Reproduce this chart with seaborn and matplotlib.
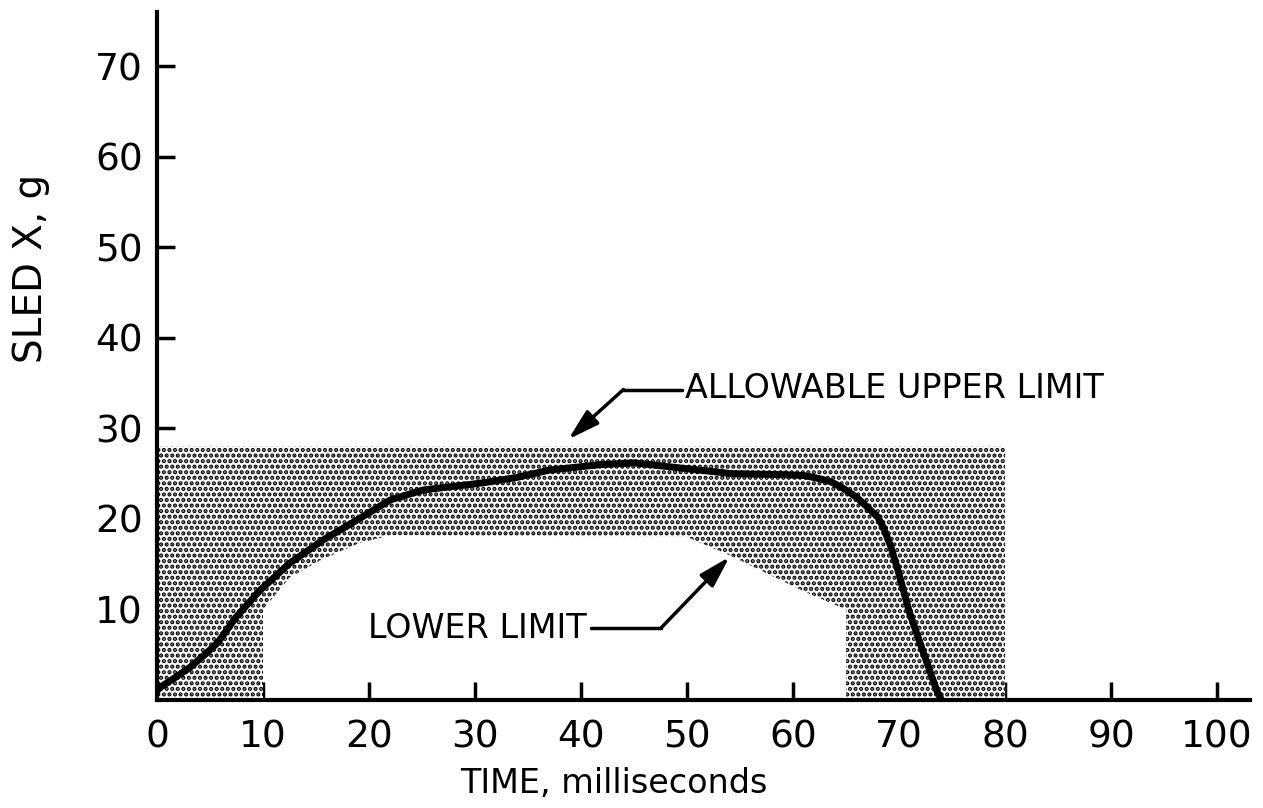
import matplotlib
matplotlib.use("Agg")
import matplotlib.pyplot as plt
import seaborn as sns
import numpy as np
import pandas as pd

# Sled acceleration curve (ms, g)
time_ms = [0, 0.3, 1.5, 3.1, 4.5, 5.7, 7.5, 9.7, 12.5, 15.7, 18.9, 22, 25.1, 28, 30.8, 34, 37,
           41.8, 45, 49.6, 54.3, 59, 61, 62.3, 63.6, 64.7, 66, 67, 68, 68.5, 69.2, 69.8, 71,
           72.3, 73.6, 74]
sled_g = [1.0, 1.4, 2.3, 3.6, 5.0, 6.3, 9.2, 12.1, 15.1, 17.7, 19.9, 22.1, 23.2, 23.6, 24.0,
          24.6, 25.4, 26.0, 26.2, 25.6, 25.0, 24.9, 24.8, 24.5, 24.1, 23.4, 22.4, 21.3, 20.2,
          19.1, 17.0, 14.7, 9.6, 5.2, 0.9, 0.0]

# Allowable corridor
upper_x = [0, 80]
upper_y = [28, 28]
lower_x = [0, 10, 10, 12.5, 15.5, 19, 22, 50, 54, 57.5, 61, 65, 65, 80]
lower_y = [0, 0, 10, 13.5, 15.5, 17.3, 18.2, 18, 16, 14, 12, 10, 0, 0]

x_ticks = [0, 10, 20, 30, 40, 50, 60, 70, 80, 90, 100]
y_ticks = [10, 20, 30, 40, 50, 60, 70]

sns.set_style("ticks")
plt.rcParams['font.family'] = ['DejaVu Sans']
plt.rcParams['text.color'] = 'black'
plt.rcParams['axes.labelcolor'] = 'black'
plt.rcParams['hatch.linewidth'] = 2.1

fig = plt.figure(figsize=(12.63, 8.08), dpi=100)
ax = fig.add_axes([0.1243, 0.1337, 0.8654, 0.8513])

lx = np.array(lower_x, dtype=float)
ly = np.array(lower_y, dtype=float)
poly_x = [upper_x[0], upper_x[0], upper_x[1], upper_x[1]] + list(lx[::-1])
poly_y = [0, upper_y[0], upper_y[1], 0] + list(ly[::-1])
ax.fill(poly_x, poly_y, facecolor='white', edgecolor='black', hatch='...', linewidth=0)

df = pd.DataFrame({"t": time_ms, "g": sled_g})
sns.lineplot(data=df, x="t", y="g", ax=ax, color='black', linewidth=5, sort=False,
             solid_capstyle='round', solid_joinstyle='round')

ax.set_xlim(0, 103.1)
ax.set_ylim(0, 76)
ax.set_xticks(x_ticks)
ax.set_yticks(y_ticks)
ax.set_xticklabels([str(v) for v in x_ticks])
ax.set_yticklabels([str(v) for v in y_ticks])

for side in ['top', 'right']:
    ax.spines[side].set_visible(False)
for side in ['left', 'bottom']:
    ax.spines[side].set_linewidth(3)
    ax.spines[side].set_color('black')

ax.tick_params(axis='both', direction='in', length=13, width=2.5, colors='black',
               labelsize=27, pad=10)
ax.tick_params(axis='x', pad=14)

ax.set_xlabel("TIME, milliseconds", fontsize=24)
ax.set_ylabel("SLED X, g", fontsize=28)
ax.xaxis.set_label_coords(0.418, -0.097)
ax.yaxis.set_label_coords(-0.098, 0.628)

arrow = dict(arrowstyle='-|>,head_length=1.9,head_width=0.55', color='black', lw=2.5,
             shrinkA=0, shrinkB=0)

ax.text(49.8, 34.4, "ALLOWABLE UPPER LIMIT", fontsize=24, va='center', ha='left')
ax.plot([49.5, 44.0], [34.3, 34.3], color='black', lw=2.5)
ax.annotate("", xy=(38.8, 28.8), xytext=(44.0, 34.3), arrowprops=arrow)

ax.text(30.2, 7.9, "LOWER LIMIT", fontsize=24, va='center', ha='center')
ax.plot([40.9, 47.5], [7.9, 7.9], color='black', lw=2.5)
ax.annotate("", xy=(54, 15.8), xytext=(47.5, 7.9), arrowprops=arrow)

fig.savefig("out.png", dpi=100)
